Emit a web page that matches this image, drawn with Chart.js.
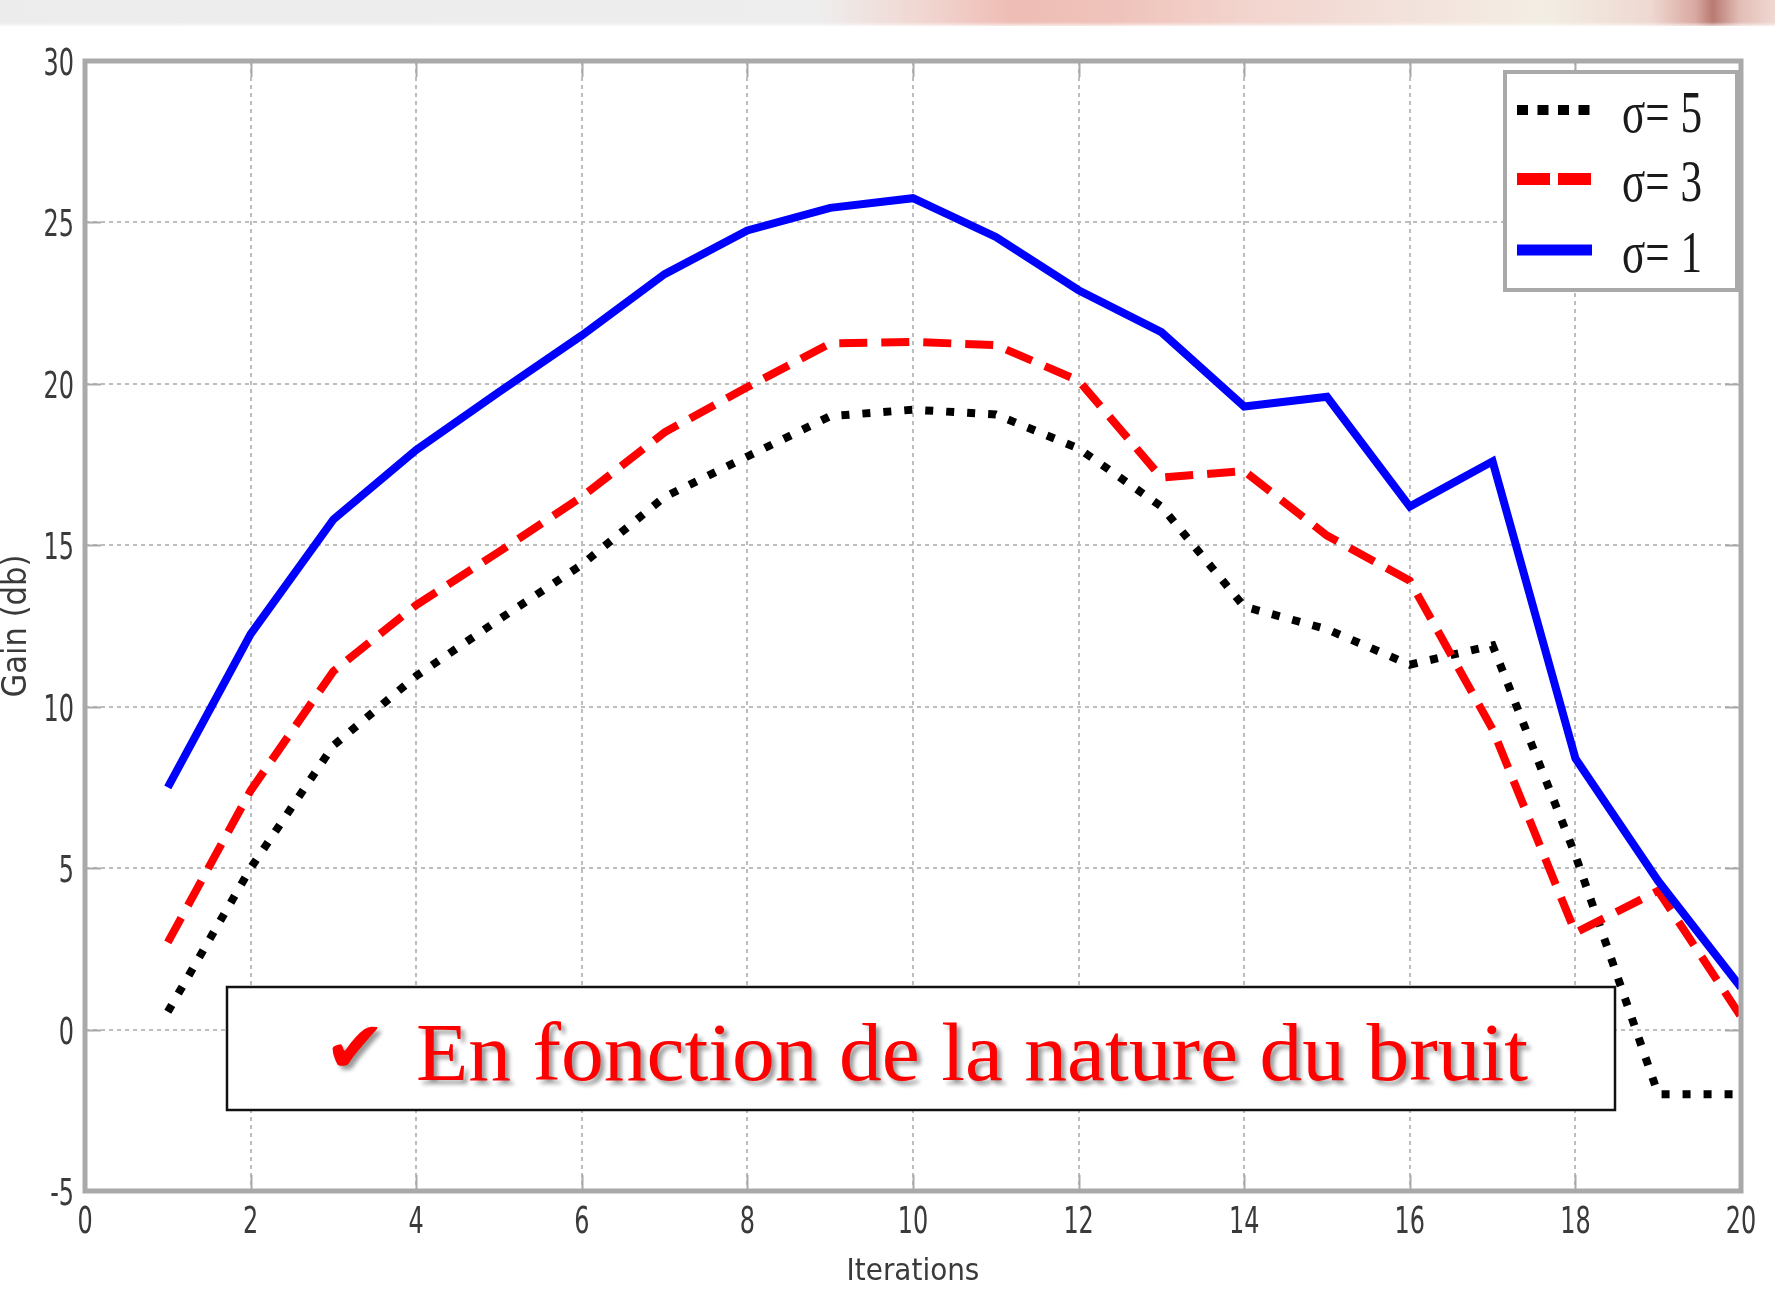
<!DOCTYPE html>
<html>
<head>
<meta charset="utf-8">
<title>Gain en fonction des itérations</title>
<script src="https://cdn.jsdelivr.net/npm/chart.js@4.4.1/dist/chart.umd.min.js"></script>
<style>
  html, body { margin: 0; padding: 0; background: #ffffff; overflow: hidden; }
  #wrap { width: 1775px; height: 1293px; position: relative; }
  canvas { display: block; }
</style>
</head>
<body>
<div id="wrap"><canvas id="chart" width="1775" height="1293"></canvas></div>
<script>
// Iteration index on the x axis
const iterations = [1, 2, 3, 4, 5, 6, 7, 8, 9, 10, 11, 12, 13, 14, 15, 16, 17, 18, 19, 20];

// Gain (dB) for each noise level
const gainSigma5 = [0.55, 5.0, 8.8, 10.95, 12.7, 14.4, 16.5, 17.75, 19.0, 19.2, 19.05, 18.0, 16.2, 13.1, 12.4, 11.3, 11.9, 5.4, -2.0, -2.0];
const gainSigma3 = [2.7, 7.4, 11.1, 13.15, 14.8, 16.5, 18.5, 19.9, 21.25, 21.3, 21.2, 20.1, 17.1, 17.3, 15.3, 13.9, 9.3, 3.0, 4.3, 0.4];
const gainSigma1 = [7.5, 12.25, 15.8, 17.95, 19.75, 21.5, 23.4, 24.75, 25.45, 25.75, 24.55, 22.9, 21.6, 19.3, 19.6, 16.2, 17.6, 8.4, 4.6, 1.3];

// Labels
const seriesLabels = ['σ= 5', 'σ= 3', 'σ= 1'];
const xAxisTitle = 'Iterations';
const yAxisTitle = 'Gain (db)';
const captionMark = '✔';
const captionText = 'En fonction de la nature du bruit';

// Axis ranges and tick steps
const xRange = [0, 20];
const xStep = 2;
const yRange = [-5, 30];
const yStep = 5;

const narrowFont = '"Liberation Sans Narrow", "DejaVu Sans Condensed", "Arial Narrow", sans-serif';
const frameColor = '#a9a9a9';
const labelColor = '#3a3a3a';

function toPoints(values) {
  return values.map((v, i) => ({ x: iterations[i], y: v }));
}

// Grey / rose banner strip along the top edge of the page
const bannerPlugin = {
  id: 'banner',
  beforeDraw(chart) {
    const ctx = chart.ctx;
    const w = chart.width;
    ctx.save();
    ctx.fillStyle = '#ffffff';
    ctx.fillRect(0, 0, w, chart.height);
    const g = ctx.createLinearGradient(0, 0, w, 0);
    g.addColorStop(0.00, '#ececec');
    g.addColorStop(0.46, '#eeeeee');
    g.addColorStop(0.52, '#f1d6d1');
    g.addColorStop(0.57, '#eebdb5');
    g.addColorStop(0.63, '#efc3bb');
    g.addColorStop(0.70, '#f2d4cd');
    g.addColorStop(0.80, '#f3e3dd');
    g.addColorStop(0.87, '#f3eee4');
    g.addColorStop(0.93, '#eed8d1');
    g.addColorStop(0.955, '#d9a9a1');
    g.addColorStop(0.965, '#b87a72');
    g.addColorStop(0.98, '#e2bdb5');
    g.addColorStop(1.00, '#f0d8d2');
    ctx.fillStyle = g;
    ctx.fillRect(0, 0, w, 26);
    const fade = ctx.createLinearGradient(0, 22, 0, 28);
    fade.addColorStop(0, 'rgba(255,255,255,0)');
    fade.addColorStop(1, 'rgba(255,255,255,1)');
    ctx.fillStyle = fade;
    ctx.fillRect(0, 22, w, 6);
    ctx.restore();
  }
};

// Condensed tick labels
const tickLabelPlugin = {
  id: 'tickLabels',
  afterDraw(chart) {
    const ctx = chart.ctx;
    const ca = chart.chartArea;
    const xs = chart.scales.x;
    const ys = chart.scales.y;
    const squeeze = 0.7;
    ctx.save();
    ctx.fillStyle = labelColor;
    ctx.font = '38px ' + narrowFont;
    ctx.textBaseline = 'alphabetic';
    xs.ticks.forEach(t => {
      const txt = String(t.label != null ? t.label : t.value);
      const px = xs.getPixelForValue(t.value);
      const w = ctx.measureText(txt).width * squeeze;
      ctx.save();
      ctx.translate(px - w / 2, ca.bottom + 42);
      ctx.scale(squeeze, 1);
      ctx.fillText(txt, 0, 0);
      ctx.restore();
    });
    ys.ticks.forEach(t => {
      const txt = String(t.label != null ? t.label : t.value);
      const py = ys.getPixelForValue(t.value);
      const w = ctx.measureText(txt).width * squeeze;
      ctx.save();
      ctx.translate(ca.left - 11 - w, py + 14);
      ctx.scale(squeeze, 1);
      ctx.fillText(txt, 0, 0);
      ctx.restore();
    });
    ctx.restore();
  }
};

// Axes box with inward tick marks, legend box and caption box
const framePlugin = {
  id: 'frame',
  afterDatasetsDraw(chart) {
    const ctx = chart.ctx;
    const ca = chart.chartArea;
    const xs = chart.scales.x;
    const ys = chart.scales.y;
    ctx.save();

    // inward ticks
    ctx.strokeStyle = frameColor;
    ctx.lineWidth = 2;
    ctx.setLineDash([]);
    ctx.beginPath();
    xs.ticks.forEach(t => {
      const px = Math.round(xs.getPixelForValue(t.value)) + 0.5;
      ctx.moveTo(px, ca.bottom); ctx.lineTo(px, ca.bottom - 16);
      ctx.moveTo(px, ca.top); ctx.lineTo(px, ca.top + 16);
    });
    ys.ticks.forEach(t => {
      const py = Math.round(ys.getPixelForValue(t.value)) + 0.5;
      ctx.moveTo(ca.left, py); ctx.lineTo(ca.left + 16, py);
      ctx.moveTo(ca.right, py); ctx.lineTo(ca.right - 16, py);
    });
    ctx.stroke();

    // axes box
    ctx.lineWidth = 5;
    ctx.strokeRect(ca.left, ca.top, ca.right - ca.left, ca.bottom - ca.top);

    // legend
    const lg = { x: 1505, y: 72, w: 232, h: 218 };
    ctx.fillStyle = '#ffffff';
    ctx.fillRect(lg.x, lg.y, lg.w, lg.h);
    ctx.lineWidth = 4;
    ctx.strokeStyle = frameColor;
    ctx.strokeRect(lg.x, lg.y, lg.w, lg.h);

    const rowY = [110, 179, 250];
    const legendStyles = [
      { color: '#000000', width: 10, dash: [11, 9.5] },
      { color: '#ff0000', width: 12, dash: [33, 8] },
      { color: '#0000ff', width: 11, dash: [] }
    ];
    seriesLabels.forEach((label, i) => {
      const st = legendStyles[i];
      ctx.save();
      ctx.strokeStyle = st.color;
      ctx.lineWidth = st.width;
      ctx.lineCap = 'butt';
      ctx.setLineDash(st.dash);
      ctx.beginPath();
      ctx.moveTo(1517, rowY[i]);
      ctx.lineTo(1592, rowY[i]);
      ctx.stroke();
      ctx.restore();

      ctx.save();
      ctx.fillStyle = '#1a1a1a';
      ctx.font = '60px "Liberation Serif", "Times New Roman", serif';
      ctx.textBaseline = 'alphabetic';
      ctx.translate(1622, rowY[i] + 22);
      ctx.scale(0.72, 1);
      ctx.fillText(label, 0, 0);
      ctx.restore();
    });

    // caption box
    const cb = { x: 227, y: 987, w: 1388, h: 123 };
    ctx.fillStyle = '#ffffff';
    ctx.fillRect(cb.x, cb.y, cb.w, cb.h);
    ctx.lineWidth = 2.5;
    ctx.strokeStyle = '#111111';
    ctx.strokeRect(cb.x, cb.y, cb.w, cb.h);

    ctx.save();
    ctx.shadowColor = 'rgba(0,0,0,0.4)';
    ctx.shadowOffsetX = 4;
    ctx.shadowOffsetY = 4;
    ctx.shadowBlur = 4;
    ctx.fillStyle = '#ff0000';
    ctx.textBaseline = 'alphabetic';

    ctx.font = '72px "DejaVu Sans", sans-serif';
    const mw = ctx.measureText(captionMark).width;
    ctx.save();
    ctx.translate(324, 1072);
    ctx.scale(62 / mw, 1);
    ctx.fillText(captionMark, 0, 0);
    ctx.restore();

    ctx.font = '83px "Liberation Serif", "Times New Roman", serif';
    const tw = ctx.measureText(captionText).width;
    ctx.translate(416, 1080);
    ctx.scale(1112 / tw, 1);
    ctx.fillText(captionText, 0, 0);
    ctx.restore();

    ctx.restore();
  }
};

const ctxEl = document.getElementById('chart');
new Chart(ctxEl, {
  type: 'line',
  data: {
    datasets: [
      {
        label: seriesLabels[0],
        data: toPoints(gainSigma5),
        borderColor: '#000000',
        borderWidth: 8,
        borderDash: [8, 13],
        borderCapStyle: 'butt',
        borderJoinStyle: 'miter',
        pointRadius: 0,
        tension: 0,
        fill: false,
        order: 2
      },
      {
        label: seriesLabels[1],
        data: toPoints(gainSigma3),
        borderColor: '#ff0000',
        borderWidth: 8,
        borderDash: [28, 14],
        borderCapStyle: 'butt',
        borderJoinStyle: 'miter',
        pointRadius: 0,
        tension: 0,
        fill: false,
        order: 1
      },
      {
        label: seriesLabels[2],
        data: toPoints(gainSigma1),
        borderColor: '#0000ff',
        borderWidth: 8,
        borderCapStyle: 'butt',
        borderJoinStyle: 'miter',
        pointRadius: 0,
        tension: 0,
        fill: false,
        order: 0
      }
    ]
  },
  options: {
    responsive: false,
    animation: false,
    devicePixelRatio: 1,
    layout: { padding: { top: 61, right: 34, bottom: 0, left: 0 } },
    plugins: {
      legend: { display: false },
      tooltip: { enabled: false },
      title: { display: false }
    },
    scales: {
      x: {
        type: 'linear',
        min: xRange[0],
        max: xRange[1],
        afterFit(scale) { scale.height = 102; },
        ticks: { stepSize: xStep, display: false, autoSkip: false },
        grid: { color: '#bdbdbd', lineWidth: 2, drawTicks: false },
        border: { display: false, dash: [4, 4] },
        title: {
          display: true,
          text: xAxisTitle,
          color: labelColor,
          font: { family: narrowFont, size: 31, lineHeight: 1 },
          padding: { top: 0, bottom: 6 }
        }
      },
      y: {
        type: 'linear',
        min: yRange[0],
        max: yRange[1],
        afterFit(scale) { scale.width = 85; },
        ticks: { stepSize: yStep, display: false, autoSkip: false },
        grid: { color: '#bdbdbd', lineWidth: 2, drawTicks: false },
        border: { display: false, dash: [4, 4] },
        title: {
          display: true,
          text: yAxisTitle,
          color: labelColor,
          font: { family: narrowFont, size: 34, lineHeight: 1 },
          padding: { top: 0, bottom: 0 }
        }
      }
    }
  },
  plugins: [bannerPlugin, framePlugin, tickLabelPlugin]
});
</script>
</body>
</html>
